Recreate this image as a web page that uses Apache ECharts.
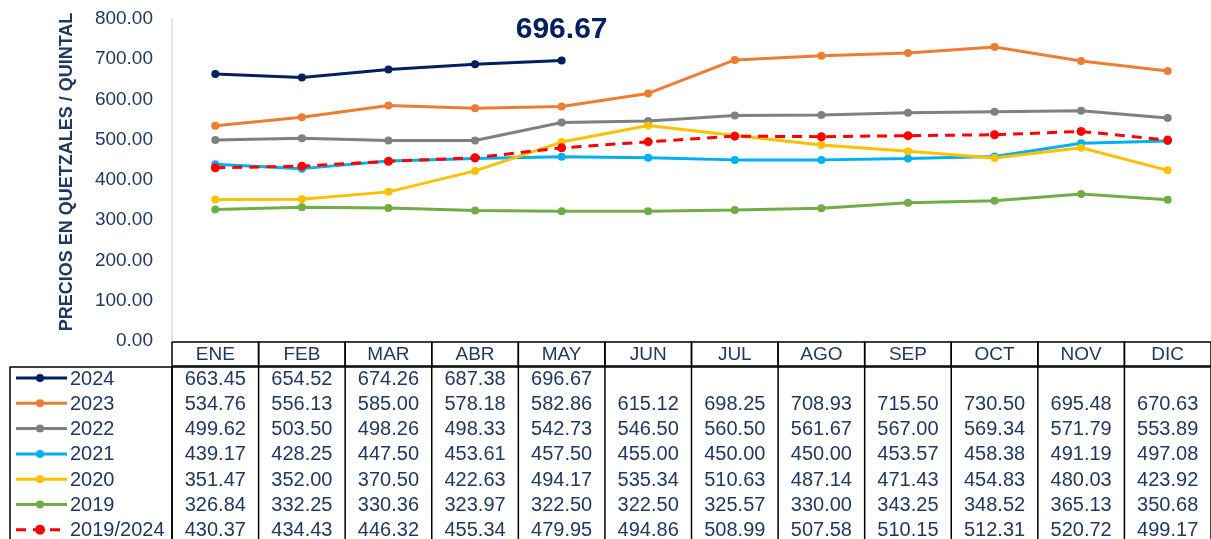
<!DOCTYPE html>
<html>
<head>
<meta charset="utf-8">
<script src="https://cdn.jsdelivr.net/npm/echarts@6/dist/echarts.min.js"></script>
<style>
  html, body { margin: 0; padding: 0; background: #fff; }
  #chart { width: 1211px; height: 539px; }
</style>
</head>
<body>
<div id="chart"></div>
<script>
// data
const months = ['ENE', 'FEB', 'MAR', 'ABR', 'MAY', 'JUN', 'JUL', 'AGO', 'SEP', 'OCT', 'NOV', 'DIC']
const yTicks = [0, 100, 200, 300, 400, 500, 600, 700, 800]
const seriesNames = ['2024', '2023', '2022', '2021', '2020', '2019', '2019/2024']
const v2024 = [663.45, 654.52, 674.26, 687.38, 696.67, null, null, null, null, null, null, null]
const v2023 = [534.76, 556.13, 585.00, 578.18, 582.86, 615.12, 698.25, 708.93, 715.50, 730.50, 695.48, 670.63]
const v2022 = [499.62, 503.50, 498.26, 498.33, 542.73, 546.50, 560.50, 561.67, 567.00, 569.34, 571.79, 553.89]
const v2021 = [439.17, 428.25, 447.50, 453.61, 457.50, 455.00, 450.00, 450.00, 453.57, 458.38, 491.19, 497.08]
const v2020 = [351.47, 352.00, 370.50, 422.63, 494.17, 535.34, 510.63, 487.14, 471.43, 454.83, 480.03, 423.92]
const v2019 = [326.84, 332.25, 330.36, 323.97, 322.50, 322.50, 325.57, 330.00, 343.25, 348.52, 365.13, 350.68]
const vAvg = [430.37, 434.43, 446.32, 455.34, 479.95, 494.86, 508.99, 507.58, 510.15, 512.31, 520.72, 499.17]

const allValues = [v2024, v2023, v2022, v2021, v2020, v2019, vAvg]
const colors = ['#002060', '#ED7D31', '#808080', '#00B0F0', '#FFC000', '#70AD47', '#FF0000']
const navy = '#1F3864'

// layout
const gridLeft = 172
const gridTop = 19
const gridBottom = 198
const gridWidth = 1211 - gridLeft
const colW = gridWidth / months.length
const headTop = 342
const headH = 24
const bodyTop = 367
const rowY0 = 378
const rowH = 25.3
const tblFont = '20px "Liberation Sans", Arial'

const chart = echarts.init(document.getElementById('chart'))

const graphics = []
// header cells
months.forEach((m, i) => {
  graphics.push({
    type: 'rect',
    shape: { x: gridLeft + i * colW, y: headTop, width: colW, height: headH },
    style: { fill: 'none', stroke: '#000', lineWidth: 1.5 }
  })
  graphics.push({
    type: 'text',
    x: gridLeft + (i + 0.5) * colW,
    y: headTop + headH / 2 + 1,
    style: { text: m, fill: navy, font: '19px "Liberation Sans", Arial', align: 'center', verticalAlign: 'middle' }
  })
})
// body column lines
for (let i = 0; i <= months.length; i++) {
  graphics.push({
    type: 'line',
    shape: { x1: gridLeft + i * colW, y1: bodyTop, x2: gridLeft + i * colW, y2: 545 },
    style: { stroke: '#000', lineWidth: 1.5 }
  })
}
graphics.push({
  type: 'line',
  shape: { x1: gridLeft, y1: bodyTop, x2: 1211, y2: bodyTop },
  style: { stroke: '#000', lineWidth: 1.5 }
})
// legend box
graphics.push({
  type: 'rect',
  shape: { x: 10, y: bodyTop, width: gridLeft - 10, height: 200 },
  style: { fill: 'none', stroke: '#000', lineWidth: 1.5 }
})
seriesNames.forEach((name, r) => {
  const y = rowY0 + r * rowH
  graphics.push({
    type: 'line',
    shape: { x1: 16, y1: y, x2: 67, y2: y },
    style: { stroke: colors[r], lineWidth: 3, lineDash: r === 6 ? [10, 7] : null }
  })
  graphics.push({
    type: 'circle',
    shape: { cx: 40, cy: y, r: r === 6 ? 5 : 4 },
    style: { fill: colors[r] }
  })
  graphics.push({
    type: 'text',
    x: 70,
    y: y + 1,
    style: { text: name, fill: navy, font: tblFont, verticalAlign: 'middle' }
  })
  allValues[r].forEach((v, i) => {
    if (v == null) return
    graphics.push({
      type: 'text',
      x: gridLeft + (i + 0.5) * colW,
      y: y + 1,
      style: { text: v.toFixed(2), fill: navy, font: tblFont, align: 'center', verticalAlign: 'middle' }
    })
  })
})

const series = seriesNames.map((name, r) => ({
  name: name,
  type: 'line',
  data: allValues[r],
  symbol: 'circle',
  symbolSize: r === 6 ? 9 : 8,
  z: r === 6 ? 5 : 3,
  itemStyle: { color: colors[r] },
  lineStyle: { color: colors[r], width: 3, type: r === 6 ? [10, 7] : 'solid' },
  emphasis: { disabled: true },
  animation: false
}))
// label on last 2024 value
series[0].label = {
  show: true,
  position: 'top',
  distance: 12,
  color: '#002060',
  fontSize: 30,
  fontWeight: 'bold',
  fontFamily: 'Liberation Sans',
  formatter: p => (p.dataIndex === 4 ? p.value.toFixed(2) : '')
}

chart.setOption({
  animation: false,
  grid: { left: gridLeft, top: gridTop, bottom: gridBottom, right: 0, containLabel: false },
  xAxis: {
    type: 'category',
    data: months,
    boundaryGap: true,
    axisLine: { show: false },
    axisTick: { show: false },
    axisLabel: { show: false }
  },
  yAxis: {
    type: 'value',
    min: yTicks[0],
    max: yTicks[yTicks.length - 1],
    interval: 100,
    name: 'PRECIOS EN QUETZALES / QUINTAL',
    nameLocation: 'middle',
    nameGap: 96,
    nameTextStyle: { color: navy, fontSize: 18, fontWeight: 'bold', fontFamily: 'Liberation Sans', padding: [0, 0, 0, 16] },
    axisLine: { show: true, lineStyle: { color: '#d9d9d9', width: 1.5 } },
    axisTick: { show: false },
    splitLine: { show: false },
    axisLabel: {
      color: navy,
      fontSize: 19,
      margin: 19,
      fontFamily: 'Liberation Sans',
      formatter: v => v.toFixed(2)
    }
  },
  series: series,
  graphic: graphics
})
</script>
</body>
</html>
